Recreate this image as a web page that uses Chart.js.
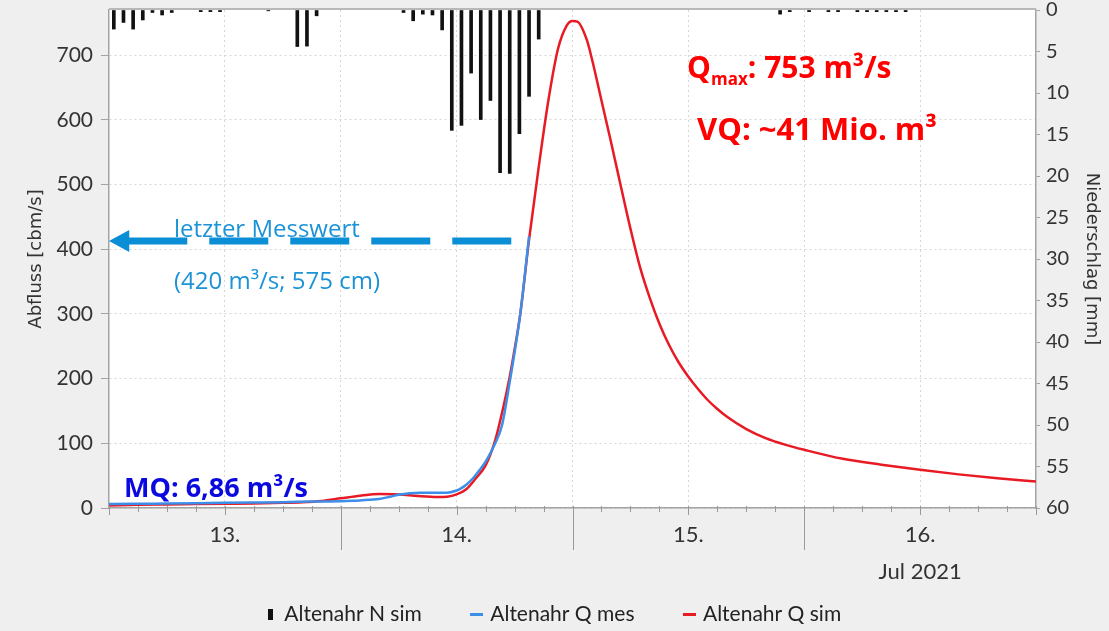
<!DOCTYPE html>
<html>
<head>
<meta charset="utf-8">
<script src="https://cdn.jsdelivr.net/npm/chart.js@4.4.1/dist/chart.umd.min.js"></script>
<style>
html,body{margin:0;padding:0;background:#efefef;}
#wrap{width:1109px;height:631px;}
canvas{display:block;}
</style>
</head>
<body>
<div id="wrap"><canvas id="c" width="1109" height="631"></canvas></div>
<script>
// ---- data (hours counted from 13 Jul 2021 00:00) ----
const dayLabels = ['13.', '14.', '15.', '16.'];
const monthLabel = 'Jul 2021';
const seriesLabels = ['Altenahr N sim', 'Altenahr Q mes', 'Altenahr Q sim'];

const precipHour = [0,1,2,3,4,5,6,9,10,11,16,19,20,21,30,31,32,33,34,35,36,37,38,39,40,41,42,43,44,69,70,72,74,75,77,78,79,80,81,82];
const precipMm   = [2.3,1.5,2.3,1.2,0.3,0.6,0.3,0.2,0.2,0.2,0.1,4.4,4.35,0.7,0.3,1.3,0.5,0.6,2.4,14.5,13.9,7.6,13.2,10.9,19.6,19.7,14.9,10.4,3.5,0.5,0.2,0.2,0.2,0.2,0.2,0.2,0.2,0.2,0.2,0.2];

const mesHours = [0,3,6,9,12,15,18,21,24,25.3,27.7,29,30.1,32.2,35,36,36.4,37,37.7,38.4,39.1,40,40.7,41.5,42.6,43.5];
const mesQ     = [6,6.5,7,7.5,8,8.5,9,10,10.5,11.3,13.4,17,21,23.7,23.7,27,30,36,46,59,74,100,128,195,301,420];

const simHours = [0,3,6,9,12,15,18,20,22,24,26,28,30,32,34,35,36,37,38,39,40,40.7,41.5,42,42.6,43.5,44.5,45.5,46.5,47.4,48,48.5,49.5,50,51,52,53,54,55,56,57,58,59,60,61,62,63,64,66,68,70,72,76,80,84,88,92,96];
const simQ     = [4,5,5.5,6,6.5,7,8,9,11,15,19,21.5,21,18.5,17,17.5,21,29,46,66,105,147,203,245,301,415,527,630,710,746,753,752,723,695,630,565,498,432,372,325,285,252,225,203,184,167,153,141,122,108,98,90,76,67,59,52,46,41];

const COL_BLUE = '#3c8ee8';
const COL_RED = '#e81a24';
const COL_AXIS = '#a3a3a3';
const COL_GRID = '#d6d6d6';

function mk(w, h, color) {
  const c = document.createElement('canvas');
  c.width = w; c.height = h;
  const g = c.getContext('2d');
  g.fillStyle = color; g.fillRect(0, 0, w, h);
  return c;
}
const markers = [mk(5, 11, '#111111'), mk(13, 3, COL_BLUE), mk(13, 3, COL_RED)];

const deco = {
  id: 'deco',
  beforeDraw(chart) {
    const {ctx, chartArea: a} = chart;
    ctx.save();
    ctx.fillStyle = '#efefef';
    ctx.fillRect(0, 0, chart.width, chart.height);
    ctx.fillStyle = '#ffffff';
    ctx.fillRect(a.left, a.top, a.right - a.left, a.bottom - a.top);
    ctx.restore();
  },
  afterLayout(chart) {
    chart.legend.top += 4;
    chart.legend.bottom += 4;
    // let the two-line date label extend below the axis box
    chart.scales.x.bottom = chart.height;
  },
  afterDraw(chart) {
    const {ctx, chartArea: a, scales} = chart;
    const x = scales.x, y = scales.y;
    ctx.save();
    // top frame line
    ctx.strokeStyle = '#b8b8b8';
    ctx.lineWidth = 2;
    ctx.beginPath(); ctx.moveTo(a.left, a.top - 1); ctx.lineTo(a.right, a.top - 1); ctx.stroke();
    // x tick marks (3h minor, 12h, day separators)
    ctx.strokeStyle = '#999999';
    ctx.lineWidth = 1;
    for (let h = 0; h <= 96; h += 3) {
      const px = Math.round(x.getPixelForValue(h)) + 0.5;
      let len = 4;
      if (h % 24 === 0 && h > 0 && h < 96) len = 42;
      else if (h % 12 === 0) len = 7;
      ctx.beginPath(); ctx.moveTo(px, a.bottom - 2); ctx.lineTo(px, a.bottom + len); ctx.stroke();
    }
    // "letzter Messwert" arrow
    const arrowBlue = '#0a8fd6';
    const yA = y.getPixelForValue(413);
    const xTip = x.getPixelForValue(0);
    const xBase = x.getPixelForValue(2.1);
    const xEnd = x.getPixelForValue(41.8);
    ctx.fillStyle = arrowBlue;
    ctx.beginPath();
    ctx.moveTo(xTip, yA); ctx.lineTo(xBase, yA - 11); ctx.lineTo(xBase, yA + 11); ctx.closePath();
    ctx.fill();
    ctx.strokeStyle = arrowBlue;
    ctx.lineWidth = 7;
    ctx.lineCap = 'butt';
    ctx.setLineDash([59, 22]);
    ctx.beginPath(); ctx.moveTo(xBase - 1, yA); ctx.lineTo(xEnd, yA); ctx.stroke();
    ctx.setLineDash([]);
    // texts
    ctx.textAlign = 'left';
    ctx.textBaseline = 'alphabetic';
    ctx.fillStyle = '#1b93d6';
    ctx.font = '24px "Open Sans"';
    ctx.fillText('letzter Messwert', x.getPixelForValue(6.73), y.getPixelForValue(419));
    ctx.fillText('(420 m³/s; 575 cm)', x.getPixelForValue(6.73), y.getPixelForValue(339));
    ctx.fillStyle = '#0a0ae0';
    ctx.font = 'bold 27px "Open Sans"';
    ctx.fillText('MQ: 6,86 m³/s', x.getPixelForValue(1.55), y.getPixelForValue(17));
    ctx.fillStyle = '#ff0000';
    ctx.font = 'bold 30px "Open Sans"';
    const qx = x.getPixelForValue(59.87), qy = y.getPixelForValue(665);
    ctx.fillText('Q', qx, qy);
    const w1 = ctx.measureText('Q').width;
    ctx.font = 'bold 17px "Open Sans"';
    ctx.fillText('max', qx + w1, qy + 7);
    const w2 = ctx.measureText('max').width;
    ctx.font = 'bold 30px "Open Sans"';
    ctx.fillText(': 753 m³/s', qx + w1 + w2, qy);
    ctx.font = 'bold 31px "Open Sans"';
    ctx.fillText('VQ: ~41 Mio. m³', x.getPixelForValue(60.9), y.getPixelForValue(569));
    ctx.restore();
  }
};

const tickFont = {family: 'Lato', size: 20};

new Chart(document.getElementById('c'), {
  type: 'line',
  data: {
    datasets: [
      {
        type: 'bar',
        label: seriesLabels[0],
        data: precipHour.map((h, i) => ({x: h + 0.5, y: precipMm[i]})),
        xAxisID: 'x',
        yAxisID: 'yN',
        backgroundColor: '#111111',
        borderWidth: 0,
        barThickness: 3
      },
      {
        type: 'line',
        label: seriesLabels[1],
        data: mesHours.map((h, i) => ({x: h, y: mesQ[i]})),
        xAxisID: 'x',
        yAxisID: 'y',
        borderColor: COL_BLUE,
        borderWidth: 2.5,
        pointRadius: 0,
        fill: false,
        cubicInterpolationMode: 'monotone'
      },
      {
        type: 'line',
        label: seriesLabels[2],
        data: simHours.map((h, i) => ({x: h, y: simQ[i]})),
        xAxisID: 'x',
        yAxisID: 'y',
        borderColor: COL_RED,
        borderWidth: 2.5,
        pointRadius: 0,
        fill: false,
        cubicInterpolationMode: 'monotone'
      }
    ]
  },
  options: {
    responsive: false,
    animation: false,
    events: [],
    layout: {padding: {top: 10, left: 0, right: 0, bottom: 0}},
    plugins: {
      tooltip: {enabled: false},
      legend: {
        position: 'bottom',
        labels: {
          usePointStyle: true,
          pointStyleWidth: 6,
          padding: 52,
          color: '#222222',
          font: {family: 'Lato', size: 21},
          generateLabels: (chart) => chart.data.datasets.map((ds, i) => ({
            text: ds.label,
            pointStyle: markers[i],
            fillStyle: 'transparent',
            strokeStyle: 'transparent',
            lineWidth: 0,
            hidden: false,
            datasetIndex: i,
            fontColor: '#222222'
          }))
        }
      }
    },
    scales: {
      x: {
        type: 'linear',
        position: 'bottom',
        min: 0,
        max: 96,
        offset: false,
        afterBuildTicks: (s) => {
          const t = [];
          for (let h = 0; h <= 96; h += 3) t.push({value: h});
          s.ticks = t;
        },
        ticks: {
          autoSkip: false,
          maxRotation: 0,
          padding: 8,
          color: '#333333',
          font: {family: 'Lato', size: 22, lineHeight: 1.68},
          callback: (v) => {
            if (v % 24 !== 12) return '';
            const i = (v - 12) / 24;
            return i === dayLabels.length - 1 ? [dayLabels[i], monthLabel] : dayLabels[i];
          }
        },
        grid: {
          offset: false,
          drawTicks: false,
          lineWidth: 1,
          color: (c) => (c.tick && c.tick.value % 12 === 0 && c.tick.value > 0 && c.tick.value < 96) ? COL_GRID : 'rgba(0,0,0,0)'
        },
        border: {display: true, color: COL_AXIS, width: 1.5, dash: [2, 3]},
        afterFit: (s) => {
          s.height = s.chart.height - 508 - s.chart.legend.height;
          s.paddingLeft = 0; s.paddingRight = 0;
        }
      },
      y: {
        type: 'linear',
        position: 'left',
        min: 0,
        max: 770,
        ticks: {stepSize: 100, includeBounds: false, color: '#333333', font: {family: 'Lato', size: 21}, padding: 8},
        grid: {color: COL_GRID, lineWidth: 1, drawTicks: true, tickLength: 8, tickColor: COL_AXIS, tickWidth: 1},
        border: {display: true, color: COL_AXIS, width: 1.5, dash: [2, 3]},
        title: {display: true, text: 'Abfluss [cbm/s]', color: '#333333', font: {family: 'DejaVu Sans', size: 18}, padding: {top: 26, bottom: 0}},
        afterFit: (s) => { s.width = 109; s.paddingTop = 0; s.paddingBottom = 0; }
      },
      yN: {
        type: 'linear',
        position: 'right',
        reverse: true,
        min: 0,
        max: 60,
        ticks: {stepSize: 5, color: '#333333', font: tickFont, padding: 6},
        grid: {drawOnChartArea: false, drawTicks: true, tickLength: 4, tickColor: COL_AXIS},
        border: {display: true, color: COL_AXIS, width: 1.5},
        title: {display: true, text: 'Niederschlag [mm]', color: '#333333', font: {family: 'DejaVu Sans', size: 18}, padding: {top: 7, bottom: 0}},
        afterFit: (s) => { s.width = 73; s.paddingTop = 0; s.paddingBottom = 0; }
      }
    }
  },
  plugins: [deco]
});
</script>
</body>
</html>
